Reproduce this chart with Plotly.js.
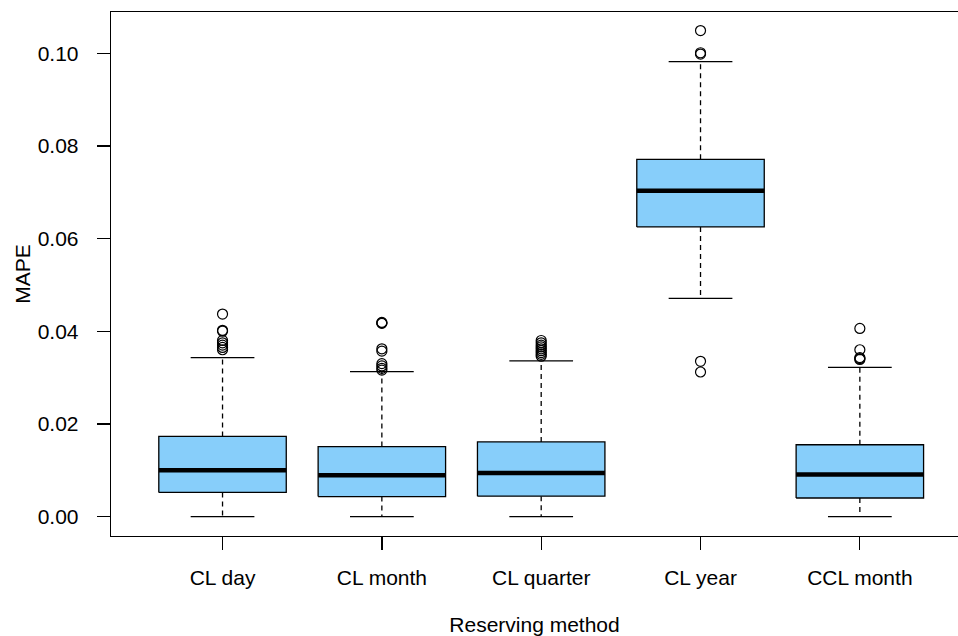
<!DOCTYPE html>
<html>
<head>
<meta charset="utf-8">
<script src="https://cdn.plot.ly/plotly-3.0.1.min.js"></script>
<style>html,body{margin:0;padding:0;background:#fff;}#chart{width:958px;height:636px;}</style>
</head>
<body>
<div id="chart"></div>
<script>
// ---- data ----
const categories = ["CL day", "CL month", "CL quarter", "CL year", "CCL month"];
const lowerWhisker = [0.0000, 0.0000, 0.0000, 0.0471, 0.0000];
const q1           = [0.0052, 0.0043, 0.0044, 0.0625, 0.0040];
const median       = [0.0100, 0.0089, 0.0094, 0.0703, 0.0091];
const q3           = [0.0173, 0.0151, 0.0161, 0.0771, 0.0155];
const upperWhisker = [0.0343, 0.0313, 0.0336, 0.0982, 0.0322];
const outliersCLday     = [0.0437, 0.0402, 0.0400, 0.0380, 0.0375, 0.0370, 0.0365, 0.0360];
const outliersCLmonth   = [0.0419, 0.0418, 0.0417, 0.0362, 0.0357, 0.0330, 0.0325, 0.0320, 0.0316];
const outliersCLquarter = [0.0380, 0.0375, 0.0370, 0.0366, 0.0362, 0.0358, 0.0354, 0.0350, 0.0346];
const outliersCLyear    = [0.1049, 0.1001, 0.0998, 0.0335, 0.0312];
const outliersCCLmonth  = [0.0406, 0.0360, 0.0343, 0.0341, 0.0339];
const outliers = [outliersCLday, outliersCLmonth, outliersCLquarter, outliersCLyear, outliersCCLmonth];
const tickValsY = [0, 0.02, 0.04, 0.06, 0.08, 0.10];

// ---- styles ----
const BOX_HALF = 0.4, CAP_HALF = 0.2;
const FONT = "Liberation Sans, Arial, Helvetica, sans-serif";
const FS = 21;

const pos = categories.map((c, i) => i + 1);
const boxX = [], boxY = [], medX = [], medY = [], whX = [], whY = [], capX = [], capY = [], outX = [], outY = [];
pos.forEach((p, i) => {
  boxX.push(p - BOX_HALF, p + BOX_HALF, p + BOX_HALF, p - BOX_HALF, p - BOX_HALF, null);
  boxY.push(q1[i], q1[i], q3[i], q3[i], q1[i], null);
  medX.push(p - BOX_HALF, p + BOX_HALF, null);
  medY.push(median[i], median[i], null);
  whX.push(p, p, null, p, p, null);
  whY.push(q3[i], upperWhisker[i], null, q1[i], lowerWhisker[i], null);
  capX.push(p - CAP_HALF, p + CAP_HALF, null, p - CAP_HALF, p + CAP_HALF, null);
  capY.push(upperWhisker[i], upperWhisker[i], null, lowerWhisker[i], lowerWhisker[i], null);
  outliers[i].forEach(v => { outX.push(p); outY.push(v); });
});

const traces = [
  {x: whX, y: whY, mode: "lines", line: {color: "#000", width: 1.3, dash: "5px,4px"}, hoverinfo: "skip"},
  {x: capX, y: capY, mode: "lines", line: {color: "#000", width: 1.3}, hoverinfo: "skip"},
  {x: boxX, y: boxY, mode: "lines", fill: "toself", fillcolor: "#87CEFA", line: {color: "#000", width: 1.3}, hoverinfo: "skip"},
  {x: medX, y: medY, mode: "lines", line: {color: "#000", width: 4.5}, hoverinfo: "skip"},
  {x: outX, y: outY, mode: "markers", marker: {symbol: "circle-open", size: 10, color: "#000", line: {width: 1.2}}, hoverinfo: "skip"}
];

const layout = {
  width: 958, height: 636,
  margin: {l: 111, r: 0, t: 12, b: 100},
  paper_bgcolor: "#fff", plot_bgcolor: "#fff",
  showlegend: false,
  font: {family: FONT, size: FS, color: "#000"},
  xaxis: {
    range: [0.3, 5.616], tickvals: pos, ticktext: categories,
    showline: true, mirror: true, linecolor: "#000", linewidth: 1.3,
    ticks: "outside", ticklen: 13, tickwidth: 1.3, tickcolor: "#000",
    ticklabelstandoff: 9,
    showgrid: false, zeroline: false,
    tickfont: {family: FONT, size: FS, color: "#000"},
    title: {text: "Reserving method", font: {family: FONT, size: FS, color: "#000"}, standoff: 30}
  },
  yaxis: {
    range: [-0.0042, 0.1089], tickvals: tickValsY, tickformat: ".2f",
    showline: true, mirror: false, linecolor: "#000", linewidth: 1.3,
    ticks: "outside", ticklen: 13, tickwidth: 1.3, tickcolor: "#000",
    ticklabelstandoff: 14,
    showgrid: false, zeroline: false,
    tickfont: {family: FONT, size: FS, color: "#000"},
    title: {text: "MAPE", font: {family: FONT, size: FS, color: "#000"}, standoff: 1}
  }
};

Plotly.newPlot("chart", traces, layout, {displayModeBar: false, staticPlot: true});
</script>
</body>
</html>
